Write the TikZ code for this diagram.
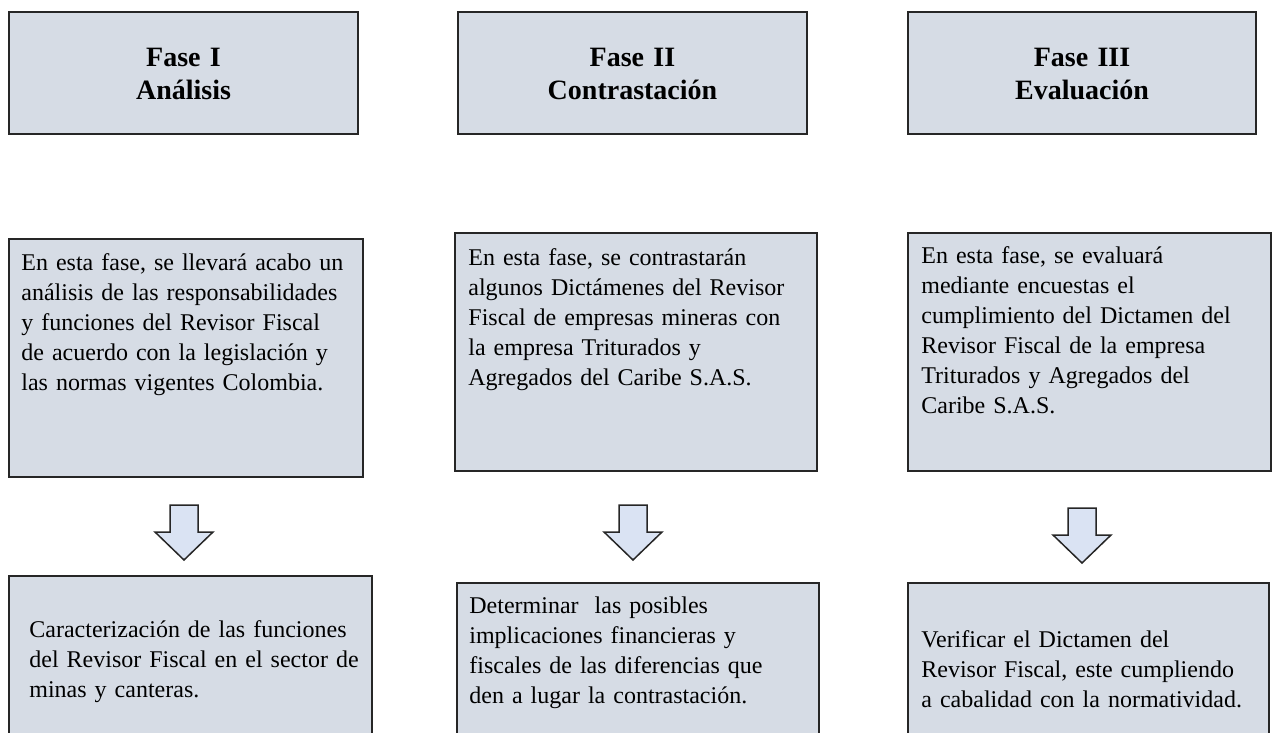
\documentclass[tikz,border=0pt]{standalone}
\usepackage{fontspec}
\setmainfont{Liberation Serif}
\usetikzlibrary{fit}

\definecolor{boxgray}{HTML}{D6DCE5}
\definecolor{arrowblue}{HTML}{DAE3F3}
\definecolor{edgegray}{HTML}{262626}

\tikzset{
    phasebox/.style={draw=edgegray, line width=0.75pt, fill=boxgray, inner sep=0pt},
    titletext/.style={anchor=base, inner sep=0pt, text width=170pt, align=center, font=\fontsize{14}{16.5}\selectfont\bfseries},
    bodytext/.style={anchor=base west, inner sep=0pt, text width=190pt, align=left, font=\fontsize{12}{15}\selectfont},
    downarrow/.style={draw=edgegray, line width=0.75pt, fill=arrowblue, line join=miter}
}

\begin{document}
\begin{tikzpicture}[x=0.5pt, y=-0.5pt]
            \useasboundingbox (0,0) rectangle (1274,733);
            \clip (0,0) rectangle (1274,733);

            % fases
            \node[phasebox, fit={(9,12) (358,134)}] (t1) {};
            \node[phasebox, fit={(458,12) (807,134)}] (t2) {};
            \node[phasebox, fit={(908,12) (1256,134)}] (t3) {};
            \node[titletext] (t1txt) at (183.5,67) {Fase I\\Análisis};
            \node[titletext] (t2txt) at (632.5,67) {Fase II\\Contrastación};
            \node[titletext] (t3txt) at (1082,67) {Fase III\\Evaluación};

            % descripcion
            \node[phasebox, fit={(9,239) (363,477)}] (m1) {};
            \node[phasebox, fit={(455,233) (817,471)}] (m2) {};
            \node[phasebox, fit={(908,233) (1271,471)}] (m3) {};
            \node[bodytext] (m1txt) at (21,270) {En esta fase, se llevará acabo un\\análisis de las responsabilidades\\y funciones del Revisor Fiscal\\de acuerdo con la legislación y\\las normas vigentes Colombia.};
            \node[bodytext] (m2txt) at (468,265) {En esta fase, se contrastarán\\algunos Dictámenes del Revisor\\Fiscal de empresas mineras con\\la empresa Triturados y\\Agregados del Caribe S.A.S.};
            \node[bodytext] (m3txt) at (921,263) {En esta fase, se evaluará\\mediante encuestas el\\cumplimiento del Dictamen del\\Revisor Fiscal de la empresa\\Triturados y Agregados del\\Caribe S.A.S.};

            % flechas
            \coordinate (a1) at (184,505);
            \coordinate (a2) at (633,505);
            \coordinate (a3) at (1082,508);
            \draw[downarrow] (a1) ++(-14,0) -- ++(28,0) -- ++(0,27) -- ++(15,0) -- ++(-29,28) -- ++(-29,-28) -- ++(15,0) -- cycle;
            \draw[downarrow] (a2) ++(-14,0) -- ++(28,0) -- ++(0,27) -- ++(15,0) -- ++(-29,28) -- ++(-29,-28) -- ++(15,0) -- cycle;
            \draw[downarrow] (a3) ++(-14,0) -- ++(28,0) -- ++(0,27) -- ++(15,0) -- ++(-29,28) -- ++(-29,-28) -- ++(15,0) -- cycle;

            % resultados
            \node[phasebox, fit={(9,576) (372,750)}] (b1) {};
            \node[phasebox, fit={(457,583) (819,750)}] (b2) {};
            \node[phasebox, fit={(908,583) (1269,750)}] (b3) {};
            \node[bodytext] (b1txt) at (29,637) {Caracterización de las funciones\\del Revisor Fiscal en el sector de\\minas y canteras.};
            \node[bodytext] (b2txt) at (469,613) {Determinar~ las posibles\\implicaciones financieras y\\fiscales de las diferencias que\\den a lugar la contrastación.};
            \node[bodytext] (b3txt) at (921,647) {Verificar el Dictamen del\\Revisor Fiscal, este cumpliendo\\a cabalidad con la normatividad.};
\end{tikzpicture}
\end{document}
